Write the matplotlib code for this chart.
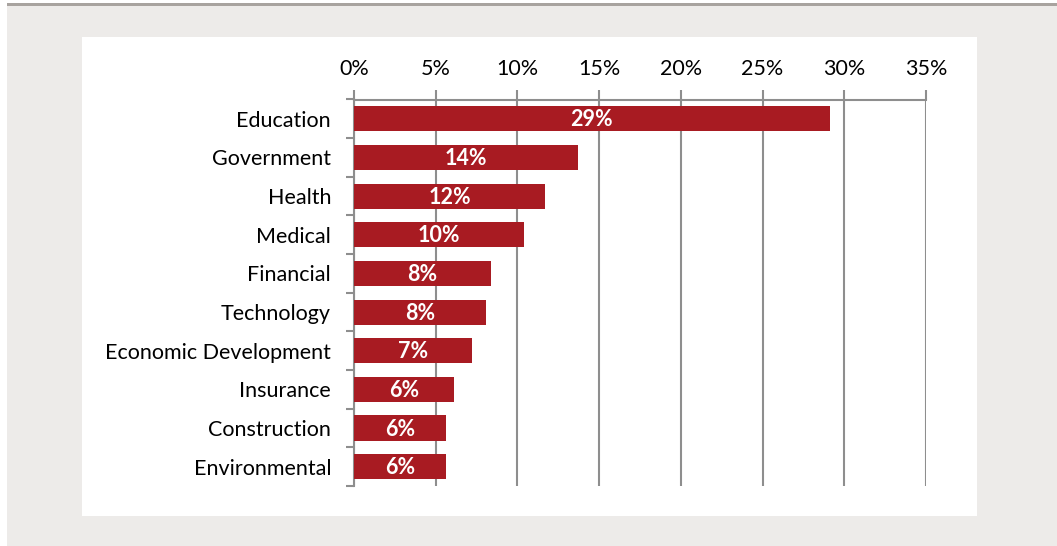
import matplotlib
matplotlib.use("Agg")
import matplotlib.pyplot as plt
from matplotlib.patches import Rectangle
from matplotlib.ticker import FixedLocator, FuncFormatter

categories = ["Education", "Government", "Health", "Medical", "Financial",
              "Technology", "Economic Development", "Insurance",
              "Construction", "Environmental"]
shares = [29.1, 13.7, 11.7, 10.4, 8.4, 8.1, 7.2, 6.1, 5.6, 5.6]
x_ticks = [0, 5, 10, 15, 20, 25, 30, 35]

W, H = 1057, 546
BAR = "#A81B22"
GRID = "#8E8E8E"
BG = "#EDEBE9"
FONT = ["Lato", "DejaVu Sans"]
FS = 15.5

fig = plt.figure(figsize=(W / 100, H / 100), dpi=100, facecolor="white")

# page background, top rule and white chart panel
fig.add_artist(Rectangle((7 / W, 0), 1 - 7 / W, (H - 3) / H,
                         transform=fig.transFigure, facecolor=BG, edgecolor="none", zorder=0))
fig.add_artist(Rectangle((7 / W, (H - 5.5) / H), 1 - 7 / W, 2.5 / H,
                         transform=fig.transFigure, facecolor="#A8A39F", edgecolor="none", zorder=0))
fig.add_artist(Rectangle((82 / W, 1 - 516 / H), (977 - 82) / W, (516 - 37) / H,
                         transform=fig.transFigure, facecolor="white", edgecolor="none", zorder=0))

left, right, top, bottom = 354, 926, 99.5, 486
ax = fig.add_axes([left / W, 1 - bottom / H, (right - left) / W, (bottom - top) / H])
ax.set_facecolor("none")

n = len(categories)
ypos = list(range(n))
ax.barh(ypos, shares, height=0.65, color=BAR, edgecolor="none", zorder=3)
for y, v in zip(ypos, shares):
    ax.text(v / 2, y + 0.03, f"{v:.0f}%", ha="center", va="center", color="white",
            fontsize=FS, fontweight="bold", family=FONT, zorder=4)

ax.set_xlim(0, 35)
ax.set_ylim(n - 0.5, -0.5)

ax.xaxis.set_major_locator(FixedLocator(x_ticks))
ax.xaxis.set_major_formatter(FuncFormatter(lambda v, p: f"{v:.0f}%"))
ax.xaxis.tick_top()
ax.tick_params(axis="x", which="major", direction="out", length=7, width=1.5,
               color=GRID, labelsize=FS, pad=8)
for lab in ax.get_xticklabels():
    lab.set_family(FONT)

ax.set_yticks(ypos)
ax.set_yticklabels(categories, family=FONT, fontsize=FS)
ax.tick_params(axis="y", which="major", length=0, pad=16.5)
ax.set_yticks([i - 0.5 for i in range(n + 1)], minor=True)
ax.tick_params(axis="y", which="minor", direction="out", length=6, width=1.5, color=GRID)

ax.grid(axis="x", color=GRID, linewidth=1.5, zorder=1)
ax.set_axisbelow(True)

for side in ("right", "bottom"):
    ax.spines[side].set_visible(False)
for side in ("top", "left"):
    ax.spines[side].set_color(GRID)
    ax.spines[side].set_linewidth(1.5)
    ax.spines[side].set_zorder(2)

fig.savefig("out.png", dpi=100, facecolor=fig.get_facecolor())
